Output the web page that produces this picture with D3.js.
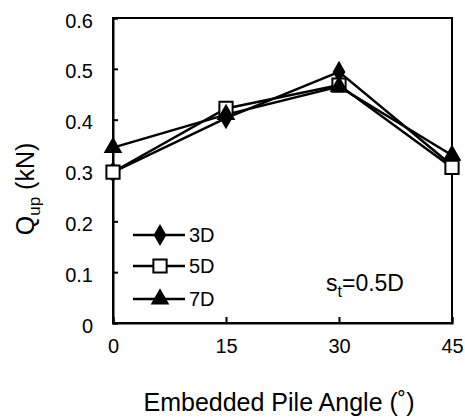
<!DOCTYPE html>
<html>
<head>
<meta charset="utf-8">
<script src="https://cdn.jsdelivr.net/npm/d3@7"></script>
<style>
  body { margin: 0; background: #fff; }
  text { font-family: "Liberation Sans", Arial, sans-serif; fill: #000; }
</style>
</head>
<body>
<svg id="chart" width="465" height="418"></svg>
<script>
var angles = [0, 15, 30, 45];
var q3D = [0.297, 0.403, 0.494, 0.31];
var q5D = [0.297, 0.422, 0.468, 0.306];
var q7D = [0.345, 0.41, 0.465, 0.33];
var xTicks = [0, 15, 30, 45];
var yTicks = [0, 0.1, 0.2, 0.3, 0.4, 0.5, 0.6];

var series = [
  { name: "3D", values: q3D, symbol: d3.symbolDiamond, fill: "#000", size: 95 },
  { name: "5D", values: q5D, symbol: d3.symbolSquare, fill: "#fff", size: 175 },
  { name: "7D", values: q7D, symbol: d3.symbolTriangle, fill: "#000", size: 100 }
];

var svg = d3.select("#chart");
var pLeft = 113, pRight = 452, pTop = 18, pBottom = 323;

var x = d3.scaleLinear().domain([0, 45]).range([pLeft, pRight]);
var y = d3.scaleLinear().domain([0, 0.6]).range([pBottom, pTop]);

// frame
svg.append("rect")
  .attr("x", pLeft).attr("y", pTop)
  .attr("width", pRight - pLeft).attr("height", pBottom - pTop)
  .attr("fill", "none").attr("stroke", "#000").attr("stroke-width", 2);

// axes, ticks inside
var yAxis = svg.append("g")
  .attr("transform", "translate(" + pLeft + ",0)")
  .call(d3.axisLeft(y).tickValues(yTicks).tickSize(-5).tickPadding(20)
    .tickFormat(function(d) { return d === 0 ? "0" : d3.format(".1f")(d); }));
var xAxis = svg.append("g")
  .attr("transform", "translate(0," + pBottom + ")")
  .call(d3.axisBottom(x).tickValues(xTicks).tickSize(-6).tickPadding(16));

[xAxis, yAxis].forEach(function(ax) {
  ax.select(".domain").attr("stroke-width", 2);
  ax.selectAll(".tick line").attr("stroke-width", 2);
  ax.selectAll("text").style("font-size", "20px")
    .style("font-family", "Liberation Sans, Arial, sans-serif");
});
yAxis.selectAll("text").attr("dy", "0.45em");

var line = d3.line()
  .x(function(d, i) { return x(angles[i]); })
  .y(function(d) { return y(d); });

series.forEach(function(s) {
  svg.append("path")
    .datum(s.values)
    .attr("d", line)
    .attr("fill", "none")
    .attr("stroke", "#000")
    .attr("stroke-width", 2.5);
});

series.forEach(function(s) {
  svg.append("g").selectAll("path")
    .data(s.values)
    .enter().append("path")
      .attr("transform", function(d, i) { return "translate(" + x(angles[i]) + "," + y(d) + ")"; })
      .attr("d", d3.symbol().type(s.symbol).size(s.size))
      .attr("fill", s.fill)
      .attr("stroke", "#000")
      .attr("stroke-width", 2);
});

// legend
var legY = [235, 266, 299];
series.forEach(function(s, i) {
  var g = svg.append("g").attr("transform", "translate(0," + legY[i] + ")");
  g.append("line").attr("x1", 133).attr("x2", 185).attr("y1", 0).attr("y2", 0)
    .attr("stroke", "#000").attr("stroke-width", 2.5);
  g.append("path").attr("transform", "translate(160,0)")
    .attr("d", d3.symbol().type(s.symbol).size(s.size))
    .attr("fill", s.fill).attr("stroke", "#000").attr("stroke-width", 2);
  g.append("text").attr("x", 189).attr("y", 7).style("font-size", "20px").text(s.name);
});

// annotation
var ann = svg.append("text").attr("x", 326).attr("y", 291).style("font-size", "23px");
ann.append("tspan").text("s");
ann.append("tspan").attr("dy", 6).style("font-size", "16px").text("t");
ann.append("tspan").attr("dy", -6).text("=0.5D");

// axis titles
svg.append("text")
  .attr("x", 279).attr("y", 411)
  .attr("text-anchor", "middle")
  .style("font-size", "25px")
  .text("Embedded Pile Angle (˚)");

var yl = svg.append("text")
  .attr("transform", "translate(34,189) rotate(-90)")
  .attr("text-anchor", "middle")
  .style("font-size", "25px");
yl.append("tspan").text("Q");
yl.append("tspan").attr("dy", 6).style("font-size", "17px").text("up");
yl.append("tspan").attr("dy", -6).text(" (kN)");
</script>
</body>
</html>
